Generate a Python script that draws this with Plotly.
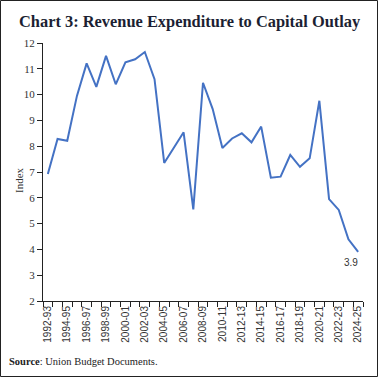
import plotly.graph_objects as go

years = ["1992-93","1993-94","1994-95","1995-96","1996-97","1997-98","1998-99","1999-00",
         "2000-01","2001-02","2002-03","2003-04","2004-05","2005-06","2006-07","2007-08",
         "2008-09","2009-10","2010-11","2011-12","2012-13","2013-14","2014-15","2015-16",
         "2016-17","2017-18","2018-19","2019-20","2020-21","2021-22","2022-23","2023-24","2024-25"]
index_values = [6.92, 8.28, 8.21, 9.95, 11.21, 10.3, 11.5, 10.4, 11.25, 11.37, 11.65, 10.6,
                7.35, 7.96, 8.54, 5.55, 10.46, 9.44, 7.93, 8.3, 8.5, 8.15, 8.76, 6.78,
                6.82, 7.66, 7.2, 7.53, 9.76, 5.95, 5.53, 4.39, 3.9]

W, H = 378, 377
ML, MR, MT, MB = 43, 15, 43, 76
PW, PH = W - ML - MR, H - MT - MB

def px_x(p):
    return (p - ML) / PW

def px_y(p):
    return (H - MB - p) / PH

x = list(range(len(years)))
tickvals = x[::2]
ticktext = years[::2]

fig = go.Figure()
fig.add_trace(go.Scatter(x=x, y=index_values, mode="lines",
                         line=dict(color="#4472C4", width=2), hoverinfo="skip"))

fig.update_layout(
    width=W, height=H,
    margin=dict(l=ML, r=MR, t=MT, b=MB, autoexpand=False),
    paper_bgcolor="white", plot_bgcolor="white",
    showlegend=False,
    xaxis=dict(range=[-0.5, len(years) - 0.5], tickvals=tickvals, ticktext=ticktext,
               tickangle=-90, ticks="", showgrid=False, zeroline=False, automargin=False,
               showline=True, linecolor="#222", linewidth=1,
               tickfont=dict(family="Liberation Sans", size=10, color="#333"),
               minor=dict(tick0=-0.5, dtick=1, ticks="outside", ticklen=5,
                          tickcolor="#222", showgrid=False)),
    yaxis=dict(range=[2, 12], dtick=1, ticks="outside", ticklen=5, tickcolor="#222",
               showgrid=False, zeroline=False, showline=True, linecolor="#222", linewidth=1,
               automargin=False,
               tickfont=dict(family="Liberation Serif", size=11, color="#333")),
)

fig.add_annotation(text="Index", textangle=-90,
                   xref="paper", yref="paper", x=px_x(19), y=px_y(180),
                   xanchor="center", yanchor="middle", showarrow=False,
                   font=dict(family="Liberation Serif", size=11, color="#333"))
fig.add_annotation(text="<b>Chart 3: Revenue Expenditure to Capital Outlay</b>",
                   xref="paper", yref="paper", x=px_x(17), y=px_y(21),
                   xanchor="left", yanchor="middle", showarrow=False,
                   font=dict(family="Liberation Serif", size=16.4, color="#1c1f33"))
fig.add_annotation(text="<b>Source</b>: Union Budget Documents.",
                   xref="paper", yref="paper", x=px_x(7), y=px_y(361),
                   xanchor="left", yanchor="middle", showarrow=False,
                   font=dict(family="Liberation Serif", size=10.5, color="#222"))
fig.add_annotation(text="3.9", x=x[-1], y=index_values[-1], xref="x", yref="y",
                   xanchor="right", yanchor="middle", yshift=-11, xshift=2, showarrow=False,
                   font=dict(family="Liberation Sans", size=10, color="#333"))

fig.add_shape(type="rect", xref="paper", yref="paper",
              x0=px_x(0.5), x1=px_x(W - 0.5),
              y0=px_y(H - 0.5), y1=px_y(0.5),
              line=dict(color="#222", width=1), fillcolor="rgba(0,0,0,0)")

fig.write_html("out.html", config={"displayModeBar": False},
               post_script="document.body.style.margin='0';document.body.style.overflow='hidden';")
